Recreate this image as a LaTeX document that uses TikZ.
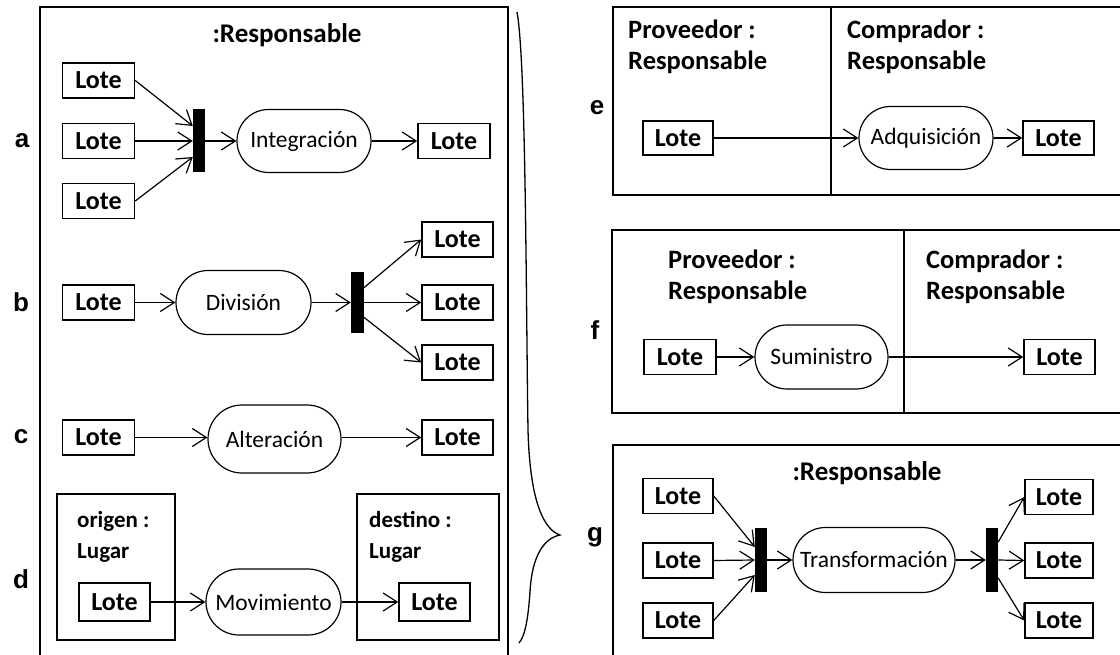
\documentclass[tikz,border=0pt]{standalone}
\usepackage{fontspec}
\setmainfont{Carlito}
\newfontfamily\labfont{Liberation Sans}
\usetikzlibrary{arrows.meta,shapes.misc}
\begin{document}
\begin{tikzpicture}[x=1pt,y=-1pt,
 lote/.style={draw, line width=1.5pt, minimum width=72pt, minimum height=35pt, inner sep=0pt, font=\fontsize{26}{28}\selectfont\bfseries},
 act/.style={draw, rounded rectangle, line width=1.2pt, minimum width=134pt, minimum height=63pt, inner sep=0pt, font=\fontsize{23.5}{26}\selectfont},
 forkbar/.style={fill=black, draw=none, minimum width=12pt, minimum height=63pt, inner sep=0pt},
 cont/.style={line width=1.5pt},
 arr/.style={-{Straight Barb[length=14pt,width=18pt,line width=1.2pt]}, line width=1.2pt},
 hdr/.style={anchor=base west, inner sep=0pt, font=\fontsize{26.5}{28}\selectfont\bfseries},
 small/.style={anchor=base west, inner sep=0pt, font=\fontsize{23}{26}\selectfont\bfseries},
 title/.style={anchor=base, inner sep=0pt, font=\fontsize{27}{28}\selectfont\bfseries},
 lab/.style={inner sep=0pt, font=\labfont\fontsize{26}{28}\selectfont\bfseries}
]
\clip (0,0) rectangle (1120,655);
\fill[white] (0,0) rectangle (1120,655);

% ---------- containers ----------
\draw[cont] (40,7) rectangle (508,670);
\draw[cont] (57,494) rectangle (175,640);
\draw[cont] (357,494) rectangle (499,640);
\draw[cont] (613,7) rectangle (1130,195);
\draw[cont] (831,7) -- (831,195);
\draw[cont] (612,230) rectangle (1130,413);
\draw[cont] (904,230) -- (904,413);
\draw[cont] (613,445) rectangle (1130,670);

% ---------- brace ----------
\draw[line width=1.3pt] (517,12) .. controls (526,60) and (526,300) .. (528,430)
  .. controls (530,505) and (545,530) .. (560,535)
  .. controls (545,538) and (532,554) .. (530,592)
  .. controls (528,620) and (525,636) .. (519,643);

% ---------- labels ----------
\node[lab] (la) at (22,141) {a};
\node[lab] (lb) at (21,302) {b};
\node[lab] (lc) at (21,437) {c};
\node[lab] (ld) at (21,579) {d};
\node[lab] (le) at (597,108) {e};
\node[lab] (lf) at (595,330) {f};
\node[lab] (lg) at (595,537) {g};

\node[title] (t1) at (287,43) {:Responsable};
\node[title] (t2) at (867,480) {:Responsable};

% ---------- a ----------
\node[lote] (La1) at (98.5,80.5) {Lote};
\node[lote] (La2) at (98.5,141) {Lote};
\node[lote] (La3) at (98.5,201) {Lote};
\node[forkbar] (Ba) at (199,141) {};
\node[act] (Ia) at (304,141) {Integración};
\node[lote] (Lao) at (454,141) {Lote};
\draw[arr] (La1.east) -- ([yshift=15pt]Ba.west);
\draw[arr] (La2.east) -- (Ba.west);
\draw[arr] (La3.east) -- ([yshift=-16pt]Ba.west);
\draw[arr] (Ba.east) -- (Ia.west);
\draw[arr] (Ia.east) -- (Lao.west);

% ---------- b ----------
\node[lote] (Lbi) at (98.5,302.5) {Lote};
\node[act, minimum width=135pt, minimum height=64pt] (Db) at (243.5,302.5) {División};
\node[forkbar, minimum width=13pt, minimum height=61pt] (Bb) at (357.5,302.5) {};
\node[lote, minimum width=71pt] (Lb1) at (457.5,239.5) {Lote};
\node[lote, minimum width=71pt] (Lb2) at (457.5,302.5) {Lote};
\node[lote, minimum width=71pt] (Lb3) at (457.5,362.5) {Lote};
\draw[arr] (Lbi.east) -- (Db.west);
\draw[arr] (Db.east) -- (Bb.west);
\draw[arr] ([yshift=15pt]Bb.east) -- (Lb1.west);
\draw[arr] (Bb.east) -- (Lb2.west);
\draw[arr] ([yshift=-15pt]Bb.east) -- (Lb3.west);

% ---------- c ----------
\node[lote] (Lci) at (98.5,437.5) {Lote};
\node[act, minimum width=133pt, minimum height=68pt] (Ac) at (274.5,439) {Alteración};
\node[lote, minimum width=71pt] (Lco) at (457.5,437.5) {Lote};
\draw[arr] (Lci.east) -- (Lci.east -| Ac.west);
\draw[arr] (Ac.east |- Lco.west) -- (Lco.west);

% ---------- d ----------
\node[small] (og1) at (77,527) {origen :};
\node[small] (og2) at (77,558) {Lugar};
\node[small] (ds1) at (369,527) {destino :};
\node[small] (ds2) at (369,558) {Lugar};
\node[lote, minimum width=71pt, minimum height=38pt] (Ldi) at (114.5,602) {Lote};
\node[act, minimum width=135pt, minimum height=66pt] (Md) at (273.5,602) {Movimiento};
\node[lote, minimum width=71pt, minimum height=38pt] (Ldo) at (434.5,602) {Lote};
\draw[arr] (Ldi.east) -- (Md.west);
\draw[arr] (Md.east) -- (Ldo.west);

% ---------- e ----------
\node[hdr] (pe1) at (628,39) {Proveedor :};
\node[hdr] (pe2) at (628,70) {Responsable};
\node[hdr] (ce1) at (847,39) {Comprador :};
\node[hdr] (ce2) at (847,70) {Responsable};
\node[lote, minimum width=70pt, minimum height=34pt] (Lei) at (678,138) {Lote};
\node[act, minimum height=63pt] (Ae) at (926,138) {Adquisición};
\node[lote, minimum width=71pt, minimum height=34pt] (Leo) at (1058.5,138) {Lote};
\draw[arr] (Lei.east) -- (Ae.west);
\draw[arr] (Ae.east) -- (Leo.west);

% ---------- f ----------
\node[hdr] (pf1) at (668,269) {Proveedor :};
\node[hdr] (pf2) at (668,300) {Responsable};
\node[hdr] (cf1) at (926,269) {Comprador :};
\node[hdr] (cf2) at (926,300) {Responsable};
\node[lote] (Lfi) at (680,357) {Lote};
\node[act, minimum width=133pt, minimum height=64pt] (Sf) at (821.5,357) {Suministro};
\node[lote, minimum width=71pt] (Lfo) at (1059.5,357) {Lote};
\draw[arr] (Lfi.east) -- (Sf.west);
\draw[arr] (Sf.east) -- (Lfo.west);

% ---------- g ----------
\node[lote, minimum width=70pt] (Lg1) at (678,496) {Lote};
\node[lote, minimum width=70pt] (Lg2) at (678,560.5) {Lote};
\node[lote, minimum width=70pt] (Lg3) at (678,620.5) {Lote};
\node[forkbar, minimum height=64pt] (Bg1) at (761,560) {};
\node[act, minimum width=162pt, minimum height=65pt] (Tg) at (874,560) {Transformación};
\node[forkbar, minimum height=64pt] (Bg2) at (992,560) {};
\node[lote, minimum width=68pt] (Lg4) at (1059,497) {Lote};
\node[lote, minimum width=68pt] (Lg5) at (1059,560.5) {Lote};
\node[lote, minimum width=68pt] (Lg6) at (1059,620.5) {Lote};
\draw[arr] (Lg1.east) -- ([yshift=13pt]Bg1.west);
\draw[arr] (Lg2.east) -- (Bg1.west);
\draw[arr] (Lg3.east) -- ([yshift=-15pt]Bg1.west);
\draw[arr] (Bg1.east) -- (Tg.west);
\draw[arr] (Tg.east) -- (Bg2.west);
\draw[arr] ([yshift=18pt]Bg2.east) -- (Lg4.west);
\draw[arr] (Bg2.east) -- (Lg5.west);
\draw[arr] ([yshift=-18pt]Bg2.east) -- (Lg6.west);
\end{tikzpicture}
\end{document}
